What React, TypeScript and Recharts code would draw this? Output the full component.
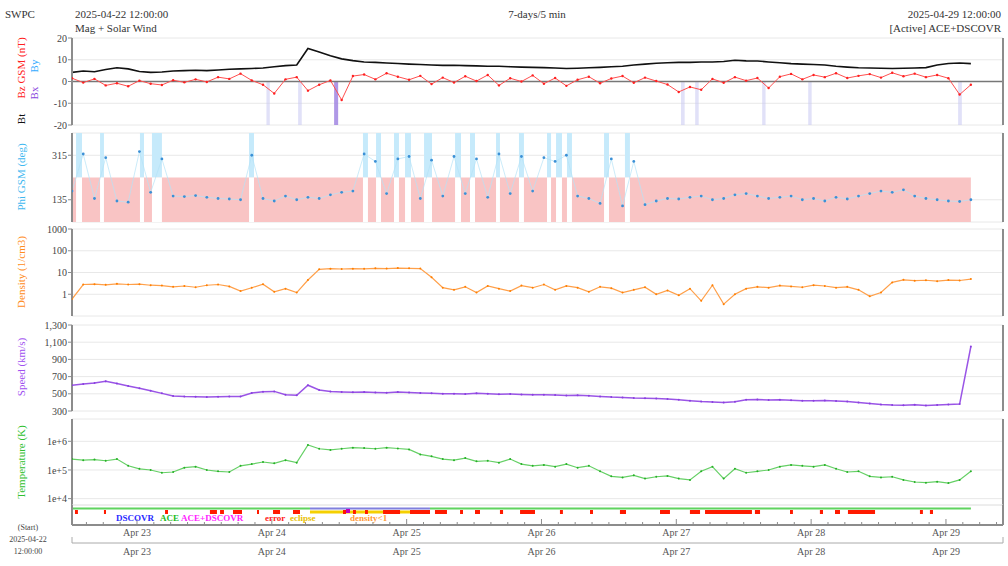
import React from "react";
import {
  ComposedChart,
  Line,
  XAxis,
  YAxis,
  CartesianGrid,
  ReferenceArea,
  ReferenceLine,
} from "recharts";

// time axis: days since 2025-04-22 00:00 UTC, one sample every 2 hours
const X_DOMAIN: [number, number] = [0.518, 7.423];
const T0 = 0.518;
const STEP = 1 / 12;

const dayTicks = [1, 2, 3, 4, 5, 6, 7];
const dayLabels = ["Apr 23", "Apr 24", "Apr 25", "Apr 26", "Apr 27", "Apr 28", "Apr 29"];
const minorTicks = Array.from({ length: 55 }, (_, k) => 0.625 + k * 0.125);

const bt = [
  4.2, 4.8, 4.5, 5.5, 6.3, 5.8, 4.6, 4.2, 4.4, 4.8,
  5.0, 5.2, 5.0, 5.3, 5.6, 5.8, 6.0, 6.2, 6.8, 7.3,
  7.6, 15.2, 13.6, 11.8, 10.4, 9.6, 9.0, 8.8, 8.5, 8.3,
  8.0, 7.8, 7.6, 7.4, 7.5, 7.3, 7.2, 7.0, 7.0, 6.8,
  6.6, 6.5, 6.4, 6.2, 6.0, 6.1, 6.3, 6.5, 6.8, 7.0,
  7.6, 8.0, 8.4, 8.6, 8.8, 8.8, 9.0, 9.0, 9.2, 9.8,
  9.5, 9.4, 9.0, 8.6, 8.2, 8.0, 7.8, 7.6, 7.0, 6.6,
  6.3, 6.2, 6.1, 6.0, 6.1, 6.2, 6.4, 7.6, 8.3, 8.5,
  8.2,
];
const bz = [
  1.5, -0.5, 1.2, -1.8, -0.8, -2.2, 0.4, -1.0, -1.6, 0.6,
  -0.4, 1.0, -0.2, 2.0, 1.2, 3.6, 0.5, -1.5, -5.5, 1.0,
  2.0, -4.2, -1.5, 0.5, -8.5, 2.5, 3.2, 1.0, 3.8, 2.2,
  0.8, 2.6, -1.2, 1.8, -0.5, 2.4, 0.2, 3.0, -1.8, 1.5,
  0.0, 2.8, -1.0, 1.6, -2.0, 0.8, 2.2, -0.8, 1.4, 2.5,
  -0.6, 1.8, 0.2, -1.4, -4.8, -2.5, -3.8, 1.2, -0.6, 2.0,
  0.4, 1.6, -3.0, 2.2, 3.5, 1.0, 3.0, 2.0, 3.8, 1.6,
  2.6, 3.4, 1.8, 4.0, 2.4, 3.6, 2.0, 3.0, 1.5, -6.0,
  -1.5,
];
const phi = [
  170, 320, 140, 305, 130, 125, 330, 165, 300, 150,
  148, 152, 145, 140, 138, 135, 315, 140, 130, 150,
  135, 145, 140, 155, 165, 170, 320, 290, 160, 300,
  310, 140, 295, 150, 310, 160, 300, 145, 320, 160,
  310, 170, 305, 290, 315, 150, 140, 120, 300, 110,
  290, 115, 130, 140, 138, 145, 150, 135, 140, 155,
  160, 150, 140, 145, 150, 135, 140, 130, 145, 138,
  150, 160, 170, 165, 175, 150, 140, 135, 130, 128,
  135,
];
const density = [
  0.6, 2.8, 2.9, 2.7, 3.0, 2.8, 2.9, 2.6, 2.5, 2.2,
  2.4, 2.1, 2.6, 2.8, 2.3, 1.4, 2.0, 2.9, 1.3, 1.8,
  1.2, 4.5, 14, 15, 14.5, 15, 14.8, 15.5, 15.2, 16,
  15.5, 15.2, 6, 2.0, 1.6, 2.2, 1.2, 2.4, 1.8, 1.4,
  2.5, 2.0, 2.8, 1.6, 2.4, 2.0, 1.3, 2.2, 1.9, 1.2,
  1.6, 2.1, 1.0, 1.5, 0.9, 1.8, 0.5, 2.6, 0.35, 1.0,
  1.8, 2.2, 2.0, 2.5, 2.3, 2.1, 2.6, 2.4, 2.0, 2.2,
  1.6, 0.8, 1.2, 3.5, 4.6, 4.2, 4.4, 4.0, 4.5, 4.3,
  5.0,
];
const speed = [
  600, 615, 625, 645, 620, 590, 565, 535, 505, 475,
  468, 465, 462, 465, 468, 470, 510, 525, 528, 490,
  482, 600, 545, 528, 522, 518, 520, 515, 512, 520,
  515, 510, 505, 500, 502, 498, 505, 500, 495, 498,
  492, 488, 490, 485, 480, 482, 478, 470, 462, 458,
  450, 448, 445, 440, 432, 420, 410, 405, 400, 408,
  430, 435, 428, 430, 425, 420, 418, 422, 415, 410,
  400, 388, 375, 370, 368, 372, 365, 370, 375, 380,
  1050,
];
const temperature = [
  2.4e5, 2.2e5, 2.3e5, 2.1e5, 2.4e5, 1.4e5, 1.1e5, 1.0e5, 8e4, 8.5e4,
  1.2e5, 1.3e5, 1.0e5, 9e4, 8.5e4, 1.4e5, 1.6e5, 1.9e5, 1.7e5, 2.2e5,
  1.8e5, 7.5e5, 5.5e5, 5.0e5, 5.5e5, 6.0e5, 5.8e5, 5.5e5, 6.0e5, 5.6e5,
  5.2e5, 3.5e5, 3.0e5, 2.4e5, 2.2e5, 2.6e5, 2.0e5, 2.1e5, 1.8e5, 2.4e5,
  1.6e5, 1.4e5, 1.5e5, 1.3e5, 1.6e5, 1.2e5, 1.4e5, 9e4, 6e4, 5.5e4,
  6.5e4, 5e4, 5.8e4, 6.2e4, 5.0e4, 4.5e4, 9e4, 1.3e5, 5e4, 1.1e5,
  8e4, 9e4, 1.0e5, 1.3e5, 1.5e5, 1.4e5, 1.3e5, 1.5e5, 1.1e5, 8.5e4,
  9e4, 6e4, 5.5e4, 5.8e4, 4.5e4, 3.8e4, 3.6e4, 3.9e4, 3.5e4, 4.5e4,
  9e4,
];

// southward Bz shading (day ranges)
const bzBands = [
  [1.96, 1.985], [2.195, 2.222], [2.462, 2.492], [5.035, 5.062],
  [5.14, 5.166], [5.637, 5.662], [5.978, 6.004], [7.09, 7.118],
];
const strongBand = 2;

// phi "away" sector intervals
const awayBands = [
  [0.548, 0.592], [0.726, 0.755], [1.022, 1.052], [1.111, 1.185],
  [1.831, 1.868], [2.676, 2.713], [2.773, 2.81], [2.906, 2.943],
  [2.988, 3.032], [3.129, 3.188], [3.359, 3.403], [3.47, 3.507],
  [3.663, 3.692], [3.833, 3.87], [4.041, 4.071], [4.108, 4.152],
  [4.189, 4.226], [4.464, 4.501], [4.619, 4.656],
];

// spacecraft source and quality flags
const sourceSpans = [
  { from: 0.518, to: 2.283, src: "ACE" },
  { from: 2.283, to: 3.173, src: "DSCOVR" },
  { from: 3.173, to: 7.185, src: "ACE" },
];
const eclipseSpans = [[2.283, 3.173]];
const mixSpans = [[2.55, 2.58]];
const errorSpans = [
  [0.54, 0.562], [0.755, 0.77], [1.208, 1.23], [1.541, 1.593], [1.616, 1.645],
  [1.712, 1.779], [1.89, 1.905], [2.009, 2.061], [2.157, 2.209], [2.528, 2.55],
  [2.602, 2.624], [2.691, 2.713], [2.825, 2.951], [3.025, 3.173], [3.21, 3.299],
  [3.396, 3.418], [3.507, 3.544], [3.692, 3.715], [3.841, 3.952], [4.137, 4.159],
  [4.36, 4.382], [4.582, 4.627], [4.879, 4.953], [5.101, 5.176], [5.213, 5.561],
  [5.583, 5.621], [5.843, 5.865], [6.065, 6.088], [6.177, 6.214], [6.273, 6.474],
  [6.807, 6.829], [6.881, 6.904],
];

const times = bt.map((_, i) => T0 + i * STEP);
const rows = times.map((t, i) => ({
  t,
  bt: bt[i],
  bz: bz[i],
  phi: phi[i],
  density: density[i],
  speed: speed[i],
  temperature: temperature[i],
}));
const dataEnd = times[times.length - 1];

const W = 1008;
const PAD = 7;
const FONT = "'Liberation Serif', 'DejaVu Serif', serif";
const FRAME = "#8c8c8c";
const srcColor: Record<string, string> = { ACE: "#5fd35f", DSCOVR: "#8080dd" };

const isMajor = (v: number) => Math.abs(v - Math.round(v)) < 1e-6;

const bottomTick = (labels: boolean) => (p: any) => {
  const v = p.payload.value;
  const maj = isMajor(v);
  return (
    <g>
      <line x1={p.x} x2={p.x} y1={p.y} y2={p.y - (maj ? 6 : 3)} stroke={FRAME} />
      {labels && maj ? (
        <text x={p.x} y={p.y + 11} textAnchor="middle" fontSize={10} fill="#555" fontFamily={FONT}>
          {dayLabels[Math.round(v) - 1]}
        </text>
      ) : null}
    </g>
  );
};

const topTick = (p: any) => {
  const maj = isMajor(p.payload.value);
  return <line x1={p.x} x2={p.x} y1={p.y} y2={p.y + (maj ? 6 : 3)} stroke={FRAME} />;
};

type PanelProps = {
  top: number;
  h: number;
  yDomain: [number, number];
  yTicks: number[];
  yScale?: "linear" | "log";
  fmt?: (v: number) => string;
  labels?: boolean;
  children?: React.ReactNode;
};

function Panel({ top, h, yDomain, yTicks, yScale = "linear", fmt, labels = false, children }: PanelProps) {
  const axisH = labels ? 16 : 0;
  return (
    <div style={{ position: "absolute", left: 0, top: top - PAD }}>
      <ComposedChart width={W} height={h + 2 * PAD + axisH} data={rows} margin={{ top: PAD, right: 0, bottom: PAD, left: 0 }}>
        <CartesianGrid xAxisId="b" yAxisId="l" vertical={false} stroke="#e8e8e8" />
        <XAxis
          xAxisId="b"
          dataKey="t"
          type="number"
          domain={X_DOMAIN}
          allowDataOverflow
          ticks={minorTicks}
          interval={0}
          height={axisH}
          tickLine={false}
          tickSize={0}
          tickMargin={0}
          axisLine={{ stroke: FRAME, strokeWidth: 2 }}
          tick={bottomTick(labels)}
        />
        <XAxis
          xAxisId="t"
          orientation="top"
          dataKey="t"
          type="number"
          domain={X_DOMAIN}
          allowDataOverflow
          ticks={minorTicks}
          interval={0}
          height={0}
          tickLine={false}
          tickSize={0}
          tickMargin={0}
          axisLine={{ stroke: FRAME, strokeWidth: 2 }}
          tick={topTick}
        />
        <YAxis
          yAxisId="l"
          width={72}
          type="number"
          scale={yScale}
          domain={yDomain}
          allowDataOverflow
          ticks={yTicks}
          interval={0}
          tickFormatter={fmt}
          tickSize={4}
          tickMargin={1}
          tickLine={{ stroke: FRAME }}
          axisLine={{ stroke: FRAME, strokeWidth: 2 }}
          tick={{ fontSize: 10, fill: "#444", fontFamily: FONT }}
        />
        <YAxis
          yAxisId="r"
          orientation="right"
          width={5}
          domain={[0, 1]}
          tick={false}
          tickLine={false}
          axisLine={{ stroke: FRAME, strokeWidth: 2 }}
        />
        {children}
      </ComposedChart>
    </div>
  );
}

const rotLabel = (x: number, y: number, text: string, color: string, size = 11) => (
  <text
    transform={`translate(${x},${y}) rotate(-90)`}
    textAnchor="middle"
    dominantBaseline="middle"
    fontSize={size}
    fill={color}
    fontFamily={FONT}
  >
    {text}
  </text>
);

const ax = { xAxisId: "b", yAxisId: "l" } as const;

export default function App() {
  return (
    <div style={{ position: "relative", width: W, height: 566, overflow: "hidden", background: "#fff" }}>
      <style>{"body{margin:0}"}</style>

      {/* Bz / Bt */}
      <Panel top={38} h={87} yDomain={[-20, 20]} yTicks={[-20, -10, 0, 10, 20]}>
        {bzBands.map(([a, b], i) => (
          <ReferenceArea key={`bzb${i}`} {...ax} x1={a} x2={b} y1={-20} y2={0}
            fill={i === strongBand ? "#9b7ee0" : "#c9c9f2"} fillOpacity={i === strongBand ? 0.8 : 0.55} stroke="none" />
        ))}
        <ReferenceLine {...ax} y={0} stroke="#777" strokeWidth={1.5} />
        <Line {...ax} dataKey="bz" stroke="#ff5050" strokeWidth={1} dot={{ r: 1.2, fill: "#ff2020", stroke: "none" }} isAnimationActive={false} />
        <Line {...ax} dataKey="bt" stroke="#111" strokeWidth={1.6} dot={false} isAnimationActive={false} />
      </Panel>

      {/* Phi */}
      <Panel top={133} h={89} yDomain={[45, 405]} yTicks={[135, 315]}>
        <ReferenceArea {...ax} x1={T0} x2={dataEnd} y1={45} y2={225} fill="#f9c4c4" fillOpacity={1} stroke="none" />
        {awayBands.map(([a, b], i) => (
          <ReferenceArea key={`aw${i}`} {...ax} x1={a} x2={b} y1={225} y2={405} fill="#c6eafb" fillOpacity={1} stroke="none" />
        ))}
        {awayBands.map(([a, b], i) => (
          <ReferenceArea key={`wh${i}`} {...ax} x1={a} x2={b} y1={45} y2={225} fill="#ffffff" fillOpacity={1} stroke="none" />
        ))}
        <Line {...ax} dataKey="phi" stroke="#b5e2f7" strokeWidth={0.7} dot={{ r: 1.4, fill: "#3b90d6", stroke: "none" }} isAnimationActive={false} />
      </Panel>

      {/* Density */}
      <Panel top={229} h={87} yDomain={[0.1, 1000]} yScale="log" yTicks={[1, 10, 100, 1000]} fmt={(v) => String(v)}>
        <Line {...ax} dataKey="density" stroke="#ffa04a" strokeWidth={1.2} dot={{ r: 1, fill: "#ff7f00", stroke: "none" }} isAnimationActive={false} />
      </Panel>

      {/* Speed */}
      <Panel top={325} h={86} yDomain={[300, 1300]} yTicks={[300, 500, 700, 900, 1100, 1300]} fmt={(v) => v.toLocaleString("en-US")}>
        <Line {...ax} dataKey="speed" stroke="#9a55e6" strokeWidth={1.5} dot={{ r: 1, fill: "#8a3fe0", stroke: "none" }} isAnimationActive={false} />
      </Panel>

      {/* Temperature */}
      <Panel top={419} h={86} yDomain={[6000, 6e6]} yScale="log" yTicks={[1e4, 1e5, 1e6]} fmt={(v) => `1e+${Math.round(Math.log10(v))}`}>
        <Line {...ax} dataKey="temperature" stroke="#66d066" strokeWidth={1.2} dot={{ r: 1, fill: "#26b026", stroke: "none" }} isAnimationActive={false} />
      </Panel>

      {/* source / quality strip */}
      <Panel top={505} h={20} yDomain={[0, 4]} yTicks={[]} labels>
        {sourceSpans.map((s, i) => (
          <ReferenceArea key={`src${i}`} {...ax} x1={s.from} x2={s.to} y1={3.1} y2={3.5} fill={srcColor[s.src]} fillOpacity={1} stroke="none" />
        ))}
        {eclipseSpans.map(([a, b], i) => (
          <ReferenceArea key={`ecl${i}`} {...ax} x1={a} x2={b} y1={2.3} y2={2.9} fill="#f5d000" fillOpacity={1} stroke="none" />
        ))}
        {errorSpans.map(([a, b], i) => (
          <ReferenceArea key={`err${i}`} {...ax} x1={a} x2={b} y1={2.2} y2={3.0} fill="#ff1a00" fillOpacity={1} stroke="none" />
        ))}
        {mixSpans.map(([a, b], i) => (
          <ReferenceArea key={`mix${i}`} {...ax} x1={a} x2={b} y1={2.4} y2={3.2} fill="#c000c0" fillOpacity={1} stroke="none" />
        ))}
      </Panel>

      {/* time slider */}
      <div style={{ position: "absolute", left: 0, top: 536 }}>
        <ComposedChart width={W} height={24} data={rows} margin={{ top: 1, right: 0, bottom: 1, left: 0 }}>
          <XAxis
            xAxisId="b"
            dataKey="t"
            type="number"
            domain={X_DOMAIN}
            ticks={dayTicks}
            interval={0}
            height={16}
            tickLine={false}
            tickSize={0}
            tickMargin={0}
            axisLine={{ stroke: "#aaa", strokeWidth: 1 }}
            tick={(p: any) => (
              <text x={p.x} y={p.y + 12} textAnchor="middle" fontSize={10} fill="#555" fontFamily={FONT}>
                {dayLabels[Math.round(p.payload.value) - 1]}
              </text>
            )}
          />
          <XAxis xAxisId="t" orientation="top" type="number" domain={X_DOMAIN} height={0} tick={false} tickLine={false} axisLine={{ stroke: "#aaa" }} />
          <YAxis yAxisId="l" width={72} domain={[0, 1]} tick={false} tickLine={false} axisLine={{ stroke: "#aaa" }} />
          <YAxis yAxisId="r" orientation="right" width={5} domain={[0, 1]} tick={false} tickLine={false} axisLine={{ stroke: "#aaa" }} />
          <ReferenceArea {...ax} x1={T0} x2={dataEnd} y1={0.3} y2={0.7} fill="#c4623e" fillOpacity={1} stroke="none" />
        </ComposedChart>
      </div>

      {/* text overlay */}
      <svg width={W} height={566} style={{ position: "absolute", left: 0, top: 0, pointerEvents: "none" }}>
        <g fontFamily={FONT} fill="#333" fontSize={11}>
          <text x={5} y={18}>SWPC</text>
          <text x={75} y={18}>2025-04-22 12:00:00</text>
          <text x={75} y={32}>Mag + Solar Wind</text>
          <text x={537} y={18} textAnchor="middle">7-days/5 min</text>
          <text x={1001} y={18} textAnchor="end">2025-04-29 12:00:00</text>
          <text x={1001} y={32} textAnchor="end">[Active] ACE+DSCOVR</text>
        </g>
        {rotLabel(22, 68, "Bz GSM (nT)", "#ff2020")}
        {rotLabel(35, 66, "By", "#33aaff")}
        {rotLabel(35, 93, "Bx", "#8844dd")}
        {rotLabel(22, 119, "Bt", "#111")}
        {rotLabel(22, 177, "Phi GSM (deg)", "#40b8f0")}
        {rotLabel(22, 272, "Density (1/cm3)", "#ff8c20")}
        {rotLabel(22, 367, "Speed (km/s)", "#a050f0")}
        {rotLabel(22, 462, "Temperature (K)", "#30c030")}
        <g fontFamily={FONT} fontSize={9} fontWeight="bold">
          <text x={116} y={521} fill="#2a2aff">DSCOVR</text>
          <text x={160} y={521} fill="#22bb22">ACE</text>
          <text x={181} y={521} fill="#ff22ff">ACE+DSCOVR</text>
          <text x={265} y={521} fill="#ff2020">error</text>
          <text x={290} y={521} fill="#e8c000">eclipse</text>
          <text x={350} y={521} fill="#ff9933">density&lt;1</text>
        </g>
        <g fontFamily={FONT} fontSize={8} fill="#444" textAnchor="middle">
          <text x={28} y={530}>(Start)</text>
          <text x={28} y={542}>2025-04-22</text>
          <text x={28} y={554}>12:00:00</text>
        </g>
      </svg>
    </div>
  );
}
